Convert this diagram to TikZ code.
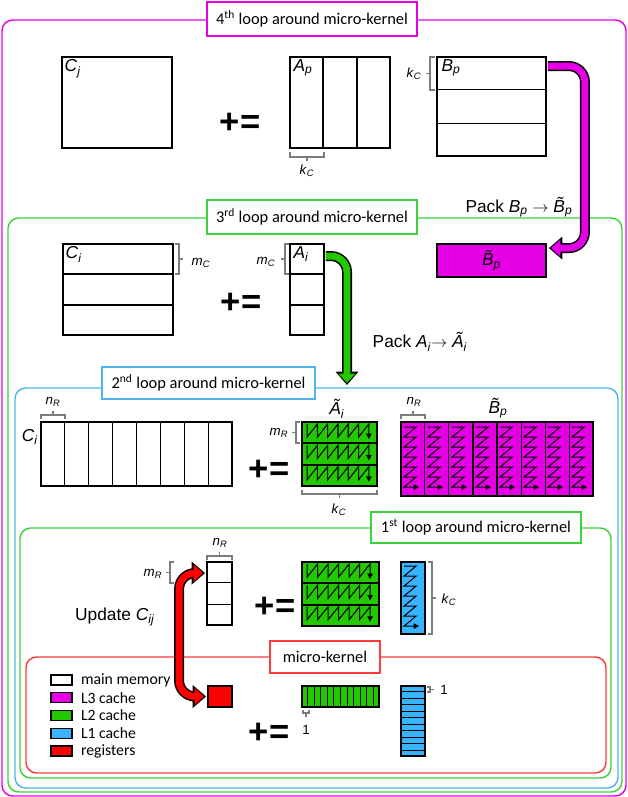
\documentclass[tikz,border=0pt]{standalone}
\usepackage{fontspec}
\setmainfont{Liberation Sans}
\newfontfamily\calib{Carlito}
\usetikzlibrary{arrows.meta,calc}

\definecolor{lthree}{RGB}{230,0,230}
\definecolor{ltwo}{RGB}{34,200,0}
\definecolor{lone}{RGB}{56,180,255}
\definecolor{regs}{RGB}{255,0,0}
\definecolor{loopgreen}{RGB}{60,210,60}
\definecolor{loopblue}{RGB}{80,180,235}
\definecolor{loopred}{RGB}{255,60,60}
\definecolor{bracegray}{RGB}{125,125,125}

\newcommand{\sym}[2]{\textit{#1}\textsubscript{\textit{#2}}}

\tikzset{
  box/.style 2 args={minimum width=#1*0.75pt, minimum height=#2*0.75pt},
  mat/.style={rectangle, draw, line width=1.4pt, inner sep=0pt},
  divider/.style={line width=1.1pt},
  loopframe/.style={draw, line width=1.1pt, rounded corners=8pt},
  looplabel/.style={rectangle, draw, fill=white, line width=1.4pt, inner sep=0pt,
    font=\calib\fontsize{12.3}{14}\selectfont},
  symlab/.style={font=\fontsize{13}{15}\selectfont, inner sep=1pt},
  dimlab/.style={font=\fontsize{10}{12}\selectfont, inner sep=0pt},
  brace/.style={draw=bracegray, line width=1pt},
  pluseq/.style={font=\bfseries\fontsize{26}{30}\selectfont, inner sep=0pt},
  zig/.style={line width=0.8pt, -{Triangle[length=4pt,width=4pt]}},
  packout/.style={line width=7.5pt, rounded corners=12pt, -{Triangle[length=10pt,width=16.5pt]}},
  packin/.style={draw=#1, line width=5.2pt, rounded corners=12pt, shorten >=1.6pt,
    -{Triangle[length=7pt,width=12.5pt]}},
  legbox/.style={rectangle, draw, line width=1.1pt, inner sep=0pt, box={21}{10}},
  legtext/.style={font=\calib\fontsize{11.8}{14}\selectfont, inner sep=0pt, anchor=west}
}

\begin{document}
\begin{tikzpicture}[x=0.75pt, y=-0.75pt]
    \useasboundingbox (0,0) rectangle (628,797);
    % Loop frames
    \draw[loopframe, lthree] (2,20) rectangle (626,796);
    \draw[loopframe, loopgreen] (8,218) rectangle (622,792);
    \draw[loopframe, loopblue] (15,388) rectangle (618,788);
    \draw[loopframe, loopgreen] (20,528) rectangle (611,778);
    \draw[loopframe, loopred] (26,657) rectangle (606,773);
    \node [looplabel, draw=lthree, box={210}{34}] at (312,19) (loop4) {4\textsuperscript{th} loop around micro-kernel};
    \node [looplabel, draw=loopgreen, box={210}{34}] at (312,217) (loop3) {3\textsuperscript{rd} loop around micro-kernel};
    \node [looplabel, draw=loopblue, box={213}{32}] at (208.5,383) (loop2) {2\textsuperscript{nd} loop around micro-kernel};
    \node [looplabel, draw=loopgreen, box={210}{31}] at (476,527.5) (loop1) {1\textsuperscript{st} loop around micro-kernel};
    \node [looplabel, draw=loopred, box={110}{32}] at (325,657) (ukernel) {micro-kernel};

    % 4th loop
    \node [mat, box={110}{91}] at (117,102.5) (Cj) {};
    \node [symlab, anchor=north west] at ($(Cj.north west)+(2,2)$) (Cjlab) {\sym{C}{j}};
    \node [pluseq] at (240,123) (pe4) {+=};
    \node [mat, box={100}{91}] at (340,102.5) (Ap) {};
    \foreach \i in {1,2}
        \draw[divider] ($(Ap.north west)!\i/3!(Ap.north east)$) -- ($(Ap.south west)!\i/3!(Ap.south east)$);
    \node [symlab, anchor=north west] at ($(Ap.north west)+(3,2)$) (Aplab) {\sym{A}{p}};
    \draw[brace] (290,152) -- (290,157) -- (324,157) -- (324,152) (307,157) -- (307,161);
    \node [dimlab] at (307,171) (kc1) {\sym{k}{C}};
    \node [mat, box={109}{99}] at (491.5,106.5) (Bp) {};
    \foreach \i in {1,2}
        \draw[divider] ($(Bp.north west)!\i/3!(Bp.south west)$) -- ($(Bp.north east)!\i/3!(Bp.south east)$);
    \node [symlab, anchor=north west] at ($(Bp.north west)+(4,2)$) (Bplab) {\sym{B}{p}};
    \draw[brace] (435,57) -- (430,57) -- (430,90) -- (435,90) (430,73.5) -- (426,73.5);
    \node [dimlab] at (414,74) (kc2) {\sym{k}{C}};
    \node [mat, fill=lthree, box={109}{33}] at (491.5,260.5) (Btp) {};
    \node [symlab] at (Btp.center) (Btplab) {\sym{\~{B}}{p}};
    \node [symlab] at (519,207) (packB) {Pack \sym{B}{p} $\rightarrow$ \sym{\~{B}}{p}};
    \draw[packout] ($(Bp.north east)+(1,10)$) -| ($(Btp.north east)+(38,5)$) -- ($(Btp.north east)+(2,5)$);
    \draw[packin=lthree] ($(Bp.north east)+(1,10)$) -| ($(Btp.north east)+(38,5)$) -- ($(Btp.north east)+(2,5)$);

    % 3rd loop
    \node [mat, box={110}{91}] at (118,289.5) (Ci) {};
    \foreach \i in {1,2}
        \draw[divider] ($(Ci.north west)!\i/3!(Ci.south west)$) -- ($(Ci.north east)!\i/3!(Ci.south east)$);
    \node [symlab, anchor=north west] at ($(Ci.north west)+(2,2)$) (Cilab) {\sym{C}{i}};
    \draw[brace] (175,244) -- (179,244) -- (179,274) -- (175,274) (179,259) -- (183,259);
    \node [dimlab] at (201,263) (mc1) {\sym{m}{C}};
    \node [pluseq] at (241,303) (pe3) {+=};
    \node [mat, box={34}{91}] at (307,289.5) (Ai) {};
    \foreach \i in {1,2}
        \draw[divider] ($(Ai.north west)!\i/3!(Ai.south west)$) -- ($(Ai.north east)!\i/3!(Ai.south east)$);
    \node [symlab, anchor=north west] at ($(Ai.north west)+(3,2)$) (Ailab) {\sym{A}{i}};
    \draw[brace] (289,244) -- (285,244) -- (285,274) -- (289,274) (285,259) -- (281,259);
    \node [dimlab] at (266,262) (mc2) {\sym{m}{C}};
    \coordinate (packend) at (347,385);
    \draw[packout] ($(Ai.north east)+(1,13)$) -| (packend);
    \draw[packin=ltwo] ($(Ai.north east)+(1,13)$) -| (packend);
    \node [symlab] at (420,342) (packA) {Pack \sym{A}{i}$\rightarrow$ \sym{\~{A}}{i}};

    % 2nd loop
    \node [mat, box={191}{64}] at (136.5,454) (Cii) {};
    \foreach \i in {1,...,7}
        \draw[line width=0.8pt] ($(Cii.north west)!\i/8!(Cii.north east)$) -- ($(Cii.south west)!\i/8!(Cii.south east)$);
    \node [symlab] at (30,437) (Ciilab) {\sym{C}{i}};
    \draw[brace] (41,419) -- (41,415) -- (65,415) -- (65,419) (53,415) -- (53,411);
    \node [dimlab] at (53,402) (nr1) {\sym{n}{R}};
    \node [pluseq] at (269,470) (pe2) {+=};
    \node [mat, fill=ltwo, box={75}{64}] at (339.5,454) (Atii) {};
    \foreach \i in {1,2}
        \draw[divider] ($(Atii.north west)!\i/3!(Atii.south west)$) -- ($(Atii.north east)!\i/3!(Atii.south east)$);
    \foreach \r in {0,1,2}
        \draw[zig] ($(Atii.north west)+(6,3+\r*21.33)$) \foreach \k in {1,...,6} { -- ++(0,13) -- ++(10.3,-13) } -- ++(0,15);
    \node [symlab] at (337,409) (Atiilab) {\sym{\~{A}}{i}};
    \draw[brace] (300,422) -- (296,422) -- (296,443) -- (300,443) (296,432.5) -- (292,432.5);
    \node [dimlab] at (279,433) (mr1) {\sym{m}{R}};
    \draw[brace] (302,490) -- (302,494) -- (377,494) -- (377,490) (339.5,494) -- (339.5,498);
    \node [dimlab] at (339,510) (kc3) {\sym{k}{C}};
    \node [mat, fill=lthree, box={192}{74}] at (497,459) (Btii) {};
    \foreach \i in {1,...,7}
        \draw[divider] ($(Btii.north west)!\i/8!(Btii.north east)$) -- ($(Btii.south west)!\i/8!(Btii.south east)$);
    \foreach \c in {0,...,7}
        \draw[zig] ($(Btii.north west)+(\c*24+4,6)$) \foreach \k in {1,...,6} { -- ++(12,0) -- ++(-12,10) } -- ++(15,0);
    \node [symlab] at (498,408) (Btiilab) {\sym{\~{B}}{p}};
    \draw[brace] (401,419) -- (401,415) -- (425,415) -- (425,419) (413,415) -- (413,411);
    \node [dimlab] at (414,402) (nr2) {\sym{n}{R}};

    % 1st loop
    \node [mat, box={25}{63}] at (219.5,593.5) (Cij) {};
    \foreach \i in {1,2}
        \draw[line width=0.8pt] ($(Cij.north west)!\i/3!(Cij.south west)$) -- ($(Cij.north east)!\i/3!(Cij.south east)$);
    \draw[brace] (207,560) -- (207,556) -- (232,556) -- (232,560) (219.5,556) -- (219.5,552);
    \node [dimlab] at (220,543) (nr3) {\sym{n}{R}};
    \draw[brace] (174,562) -- (170,562) -- (170,583) -- (174,583) (170,572.5) -- (166,572.5);
    \node [dimlab] at (153,574) (mr2) {\sym{m}{R}};
    \node [symlab] at (115,617) (update) {Update \sym{C}{ij}};
    \node [pluseq] at (275,607) (pe1) {+=};
    \node [mat, fill=ltwo, box={77}{64}] at (340.5,594) (Ati) {};
    \foreach \i in {1,2}
        \draw[divider] ($(Ati.north west)!\i/3!(Ati.south west)$) -- ($(Ati.north east)!\i/3!(Ati.south east)$);
    \foreach \r in {0,1,2}
        \draw[zig] ($(Ati.north west)+(6,3+\r*21.33)$) \foreach \k in {1,...,6} { -- ++(0,13) -- ++(10.5,-13) } -- ++(0,15);
    \node [mat, fill=lone, box={24}{72}] at (413,598) (Bti) {};
    \draw[zig] ($(Bti.north west)+(4,5)$) \foreach \k in {1,...,6} { -- ++(12,0) -- ++(-12,10) } -- ++(15,0);
    \draw[brace] (428,562) -- (432,562) -- (432,634) -- (428,634) (432,598) -- (436,598);
    \node [dimlab] at (449,600) (kc4) {\sym{k}{C}};

    % micro-kernel
    \node [mat, fill=regs, box={24}{21}] at (220,696.5) (reg) {};
    \draw[packout, {Triangle[length=10pt,width=16.5pt]}-{Triangle[length=10pt,width=16.5pt]}]
        ($(Cij.north west)+(-1,12)$) -- ++(-26,0) |- ($(reg.west)+(-1,0)$);
    \draw[packin=regs, shorten <=1.6pt, {Triangle[length=7pt,width=12.5pt]}-{Triangle[length=7pt,width=12.5pt]}]
        ($(Cij.north west)+(-1,12)$) -- ++(-26,0) |- ($(reg.west)+(-1,0)$);
    \node [pluseq] at (269,733) (pe0) {+=};
    \node [mat, fill=ltwo, line width=1.1pt, box={77}{21}] at (340.5,696.5) (Astrip) {};
    \foreach \i in {1,...,11}
        \draw[line width=0.8pt] ($(Astrip.north west)!\i/12!(Astrip.north east)$) -- ($(Astrip.south west)!\i/12!(Astrip.south east)$);
    \draw[brace] (303,710) -- (303,713) -- (309,713) -- (309,710) (306,713) -- (306,717);
    \node [dimlab] at (306,730) (one1) {1};
    \node [mat, fill=lone, line width=1.1pt, box={24}{70}] at (413,721) (Bstrip) {};
    \foreach \i in {1,...,10}
        \draw[line width=0.8pt] ($(Bstrip.north west)!\i/11!(Bstrip.south west)$) -- ($(Bstrip.north east)!\i/11!(Bstrip.south east)$);
    \draw[brace] (427,687) -- (430,687) -- (430,692) -- (427,692) (430,689.5) -- (434,689.5);
    \node [dimlab] at (444,690) (one2) {1};

    % legend
    \foreach \c/\t [count=\k] in {white/main memory, lthree/L3 cache, ltwo/L2 cache, lone/L1 cache, regs/registers} {
        \node [legbox, fill=\c] at (61.5,680+\k*17.75-17.75) (leg\k) {};
        \node [legtext] at ($(leg\k.east)+(8,0)$) (legt\k) {\t};
    }
\end{tikzpicture}
\end{document}
